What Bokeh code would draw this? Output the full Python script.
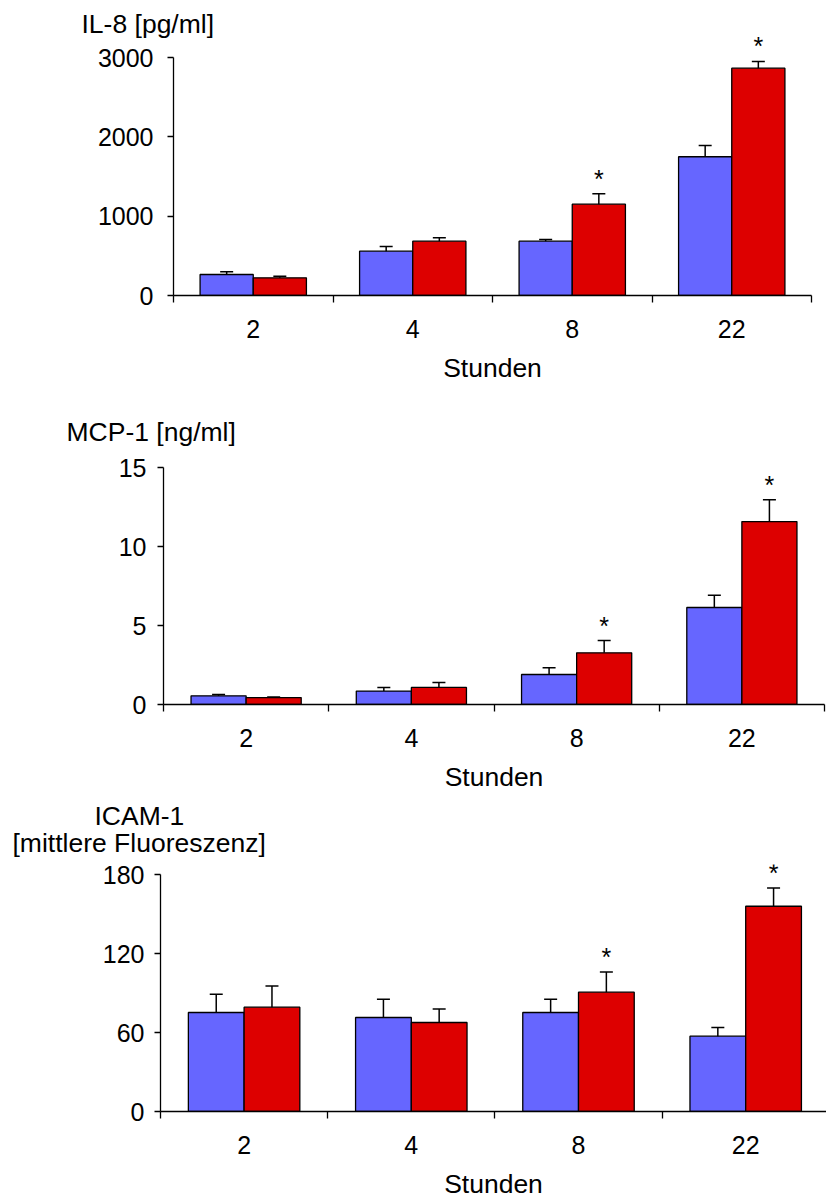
from bokeh.plotting import figure
from bokeh.models import (ColumnDataSource, Range1d, FixedTicker, Whisker, TeeHead, Title)
from bokeh.core.properties import value
from bokeh.embed import file_html
from bokeh.resources import INLINE

# ---------------- data ----------------
hours = ["2", "4", "8", "22"]

il8_ctrl = [265, 559, 685, 1749]
il8_ctrl_err = [35, 59, 21, 142]
il8_trt = [223, 685, 1151, 2866]
il8_trt_err = [20, 42, 131, 84]

mcp_ctrl = [0.55, 0.85, 1.90, 6.14]
mcp_ctrl_err = [0.08, 0.23, 0.42, 0.78]
mcp_trt = [0.44, 1.08, 3.27, 11.58]
mcp_trt_err = [0.03, 0.31, 0.78, 1.38]

icam_ctrl = [75.2, 71.4, 75.2, 57.2]
icam_ctrl_err = [13.8, 13.9, 10.1, 6.6]
icam_trt = [79.2, 67.6, 90.6, 155.9]
icam_trt_err = [16.2, 10.3, 15.4, 13.9]

significant = [False, False, True, True]

il8_ticks = [0, 1000, 2000, 3000]
mcp_ticks = [0, 5, 10, 15]
icam_ticks = [0, 60, 120, 180]

FONT = "Liberation Sans"
BLUE = "#6666FF"
RED = "#DD0000"
BW = 1 / 3


def make_title(text, offset, standoff):
    return Title(text=text, align="left", offset=offset, standoff=standoff,
                 text_font=FONT, text_font_size="26.5px", text_font_style="normal",
                 text_color="black")


def panel(ctrl, ctrl_err, trt, trt_err, ticks, titles,
          frame_left, frame_width, frame_right, frame_top_border, frame_h,
          bottom_border, y_end, x_end, ylab_standoff):
    outer_text, outer_off, outer_so = titles[0]
    p = figure(frame_width=frame_width, frame_height=frame_h,
               min_border_left=frame_left, min_border_right=frame_right,
               min_border_top=frame_top_border, min_border_bottom=bottom_border,
               x_range=Range1d(0, x_end), y_range=Range1d(0, y_end),
               output_backend="svg", toolbar_location=None,
               title=make_title(outer_text, outer_off, outer_so),
               background_fill_color="white", border_fill_color="white")
    for t, off, so in titles[1:]:
        p.add_layout(make_title(t, off, so), "above")
    p.outline_line_color = None
    p.grid.visible = False

    idx = list(range(len(hours)))
    xc = [i + 0.5 - BW / 2 for i in idx]
    xt = [i + 0.5 + BW / 2 for i in idx]

    s_c = ColumnDataSource(dict(x=xc, top=ctrl, hi=[a + b for a, b in zip(ctrl, ctrl_err)]))
    s_t = ColumnDataSource(dict(x=xt, top=trt, hi=[a + b for a, b in zip(trt, trt_err)]))

    for src in (s_c, s_t):
        w = Whisker(base="x", lower="top", upper="hi", source=src,
                    lower_head=None,
                    upper_head=TeeHead(size=13, line_width=1.5, line_color="black"),
                    line_width=1.5, line_color="black", level="glyph")
        p.add_layout(w)

    p.vbar(x="x", top="top", bottom=0, width=BW, source=s_c,
           fill_color=BLUE, line_color="black", line_width=1.3)
    p.vbar(x="x", top="top", bottom=0, width=BW, source=s_t,
           fill_color=RED, line_color="black", line_width=1.3)

    sx = [x for x, s in zip(xt, significant) if s]
    sy = [a + b for a, b, s in zip(trt, trt_err, significant) if s]
    p.text(x=sx, y=sy, text=["*"] * len(sx), text_align="center",
           text_baseline="alphabetic", y_offset=-15,
           text_font=value(FONT), text_font_size="25px", text_color="black")

    # y axis
    ya = p.yaxis[0]
    ya.ticker = FixedTicker(ticks=ticks, minor_ticks=[])
    ya.bounds = (ticks[0], ticks[-1])
    ya.major_tick_out = 6
    ya.major_tick_in = 0
    ya.minor_tick_out = 0
    ya.major_label_standoff = ylab_standoff
    ya.major_label_text_font = FONT
    ya.major_label_text_font_size = "25px"
    ya.major_label_text_color = "black"
    ya.axis_line_width = 1.3
    ya.major_tick_line_width = 1.3

    # x axis
    xa = p.xaxis[0]
    centers = [i + 0.5 for i in idx]
    xa.ticker = FixedTicker(ticks=centers, minor_ticks=list(range(len(hours) + 1)))
    xa.major_label_overrides = {c: h for c, h in zip(centers, hours)}
    xa.major_tick_out = 0
    xa.major_tick_in = 0
    xa.minor_tick_out = 7
    xa.minor_tick_in = 0
    xa.minor_tick_line_width = 1.3
    xa.axis_line_width = 1.3
    xa.major_label_standoff = 17
    xa.major_label_text_font = FONT
    xa.major_label_text_font_size = "25px"
    xa.major_label_text_color = "black"
    xa.axis_label = "Stunden"
    xa.axis_label_text_font = FONT
    xa.axis_label_text_font_size = "26.5px"
    xa.axis_label_text_font_style = "normal"
    xa.axis_label_text_color = "black"
    xa.axis_label_standoff = 12
    return p


p1 = panel(il8_ctrl, il8_ctrl_err, il8_trt, il8_trt_err, il8_ticks,
           [("IL-8 [pg/ml]", -92, -8)],
           frame_left=173, frame_width=638, frame_right=15,
           frame_top_border=34, frame_h=261, bottom_border=103,
           y_end=3000 * 261 / 238, x_end=4, ylab_standoff=14)

p2 = panel(mcp_ctrl, mcp_ctrl_err, mcp_trt, mcp_trt_err, mcp_ticks,
           [("MCP-1 [ng/ml]", -97, 32)],
           frame_left=163, frame_width=661, frame_right=2,
           frame_top_border=64, frame_h=242, bottom_border=90,
           y_end=15 * 242 / 237, x_end=4, ylab_standoff=11)

p3 = panel(icam_ctrl, icam_ctrl_err, icam_trt, icam_trt_err, icam_ticks,
           [("ICAM-1", -66, -22), ("[mittlere Fluoreszenz]", -148, 13)],
           frame_left=160, frame_width=666, frame_right=0,
           frame_top_border=70, frame_h=247, bottom_border=87,
           y_end=180 * 247 / 237, x_end=666 / 167.2, ylab_standoff=10)

open("out.html", "w").write(file_html([p1, p2, p3], INLINE))
